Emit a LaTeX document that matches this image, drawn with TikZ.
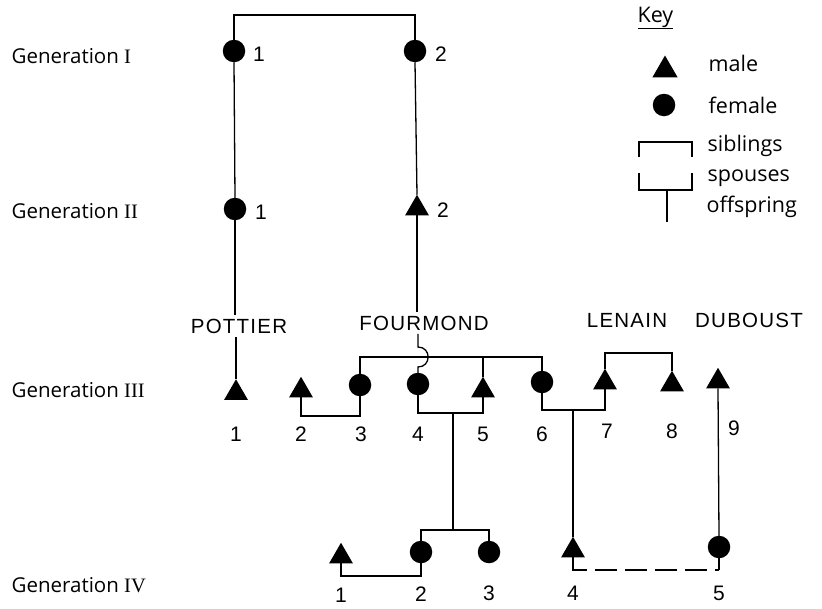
\documentclass[tikz,border=0pt]{standalone}
\usepackage{fontspec}
\setmainfont{Open Sans}
\newfontfamily\numfont{Liberation Sans}
\newfontfamily\capsfont[LetterSpace=6]{Liberation Sans}
\newfontfamily\romfont{Liberation Serif}
\usetikzlibrary{shapes.geometric,calc}
\begin{document}
\begin{tikzpicture}[x=1pt,y=-1pt,line width=1.3pt,
 fem/.style={circle,fill=black,draw=none,inner sep=0pt,outer sep=0pt,minimum size=22.5pt},
 mal/.style={regular polygon,regular polygon sides=3,fill=black,draw=none,inner sep=0pt,outer sep=0pt,minimum size=27.5pt},
 num/.style={font=\numfont\fontsize{21}{21}\selectfont,inner sep=0pt},
 fam/.style={font=\capsfont\fontsize{20.5}{20.5}\selectfont,inner sep=3pt},
 gen/.style={font=\fontsize{20.5}{20.5}\selectfont,anchor=west,inner sep=0pt},
 keytxt/.style={font=\fontsize{21.5}{21.5}\selectfont,anchor=west,inner sep=0pt},
 spouse/.style={dash pattern=on 22pt off 8pt}]
\useasboundingbox (0,0) rectangle (822,608);

% generation labels
\node[gen] (g1) at (11,56) {Generation {\romfont I}};
\node[gen] (g2) at (11,211) {Generation {\romfont II}};
\node[gen] (g3) at (11,390) {Generation {\romfont III}};
\node[gen] (g4) at (11,585) {Generation {\romfont IV}};

% Generation I
\node[fem] (A1) at (234,51) {};
\node[fem] (A2) at (415,51) {};
\node[num] (nA1) at (259,54) {1};
\node[num] (nA2) at (441,54) {2};
\coordinate (top) at (0,15);
\draw (A1.north) -- (A1.north |- top) -- (A2.north |- top) -- (A2.north);

% Generation II
\node[fem] (B1) at (235,209) {};
\node[mal] (B2) at (417,208.5) {};
\node[num] (nB1) at (261,212) {1};
\node[num] (nB2) at (443,210) {2};
\draw (A1.south) -- (B1.north);
\draw (A2.south) -- (B2.north);

% family names
\node[fam] (pot) at (239,326) {POTTIER};
\node[fam] (fou) at (424,323) {FOURMOND};
\node[fam] (len) at (627,320) {LENAIN};
\node[fam] (dub) at (749,320) {DUBOUST};

% Generation III
\node[mal] (C1) at (236,393) {};
\node[mal] (C2) at (301,390.5) {};
\node[fem] (C3) at (360,385) {};
\node[fem] (C4) at (418,384) {};
\node[mal] (C5) at (483,390.5) {};
\node[fem] (C6) at (542,382) {};
\node[mal] (C7) at (605,382.5) {};
\node[mal] (C8) at (672,384.5) {};
\node[mal] (C9) at (718,381.5) {};
\node[num] (nC1) at (236,434) {1};
\node[num] (nC2) at (301,434) {2};
\node[num] (nC3) at (361,434) {3};
\node[num] (nC4) at (418,434) {4};
\node[num] (nC5) at (483,434) {5};
\node[num] (nC6) at (542,434) {6};
\node[num] (nC7) at (607,431) {7};
\node[num] (nC8) at (672,431) {8};
\node[num] (nC9) at (734,428) {9};

% offspring lines from generation II
\draw (B1.south) -- (pot.north -| B1.south);
\draw (pot.south -| C1.north) -- (C1.north);
\draw (B2.south) -- (fou.north -| B2.south);
\coordinate (hopA) at (418,347);
\coordinate (hopB) at (418,367);
\draw (fou.south -| C4.north) -- (hopA) .. controls (431.5,347) and (431.5,367) .. (hopB) -- (C4.north);

% siblings 3,5,6
\coordinate (sib) at (0,357);
\draw (C3.north) -- (C3.north |- sib) -- (C6.north |- sib) -- (C6.north);
\draw (C5.north) -- (C5.north |- sib);

% siblings 7,8
\coordinate (sib78) at (0,353);
\draw (C7.north) -- (C7.north |- sib78) -- (C8.north |- sib78) -- (C8.north);

% spouses generation III
\coordinate (sp23) at (0,416);
\draw (C2.south) -- (C2.south |- sp23) -- (C3.south |- sp23) -- (C3.south);
\coordinate (sp45) at (0,413);
\draw (C4.south) -- (C4.south |- sp45) -- (C5.south |- sp45) -- (C5.south);
\coordinate (sp67) at (0,410);
\draw (C6.south) -- (C6.south |- sp67) -- (C7.south |- sp67) -- (C7.south);

% Generation IV
\node[mal] (D1) at (341,556.5) {};
\node[fem] (D2) at (421,552) {};
\node[fem] (D3) at (489,552) {};
\node[mal] (D4) at (573,550.5) {};
\node[fem] (D5) at (719,547) {};
\node[num] (nD1) at (341,595) {1};
\node[num] (nD2) at (421,594) {2};
\node[num] (nD3) at (489,593) {3};
\node[num] (nD4) at (573,593) {4};
\node[num] (nD5) at (719,593) {5};

% offspring to generation IV
\coordinate (m45) at (453,413);
\coordinate (s23) at (453,530);
\draw (m45) -- (s23);
\draw (D2.north) -- (D2.north |- s23) -- (D3.north |- s23) -- (D3.north);
\coordinate (m67) at (573,410);
\draw (m67) -- (D4.north);
\draw (C9.south) -- (D5.north);

% spouses generation IV
\coordinate (spD12) at (0,576);
\draw (D1.south) -- (D1.south |- spD12) -- (D2.south |- spD12) -- (D2.south);
\coordinate (spD45) at (0,570);
\draw (D4.south) -- (D4.south |- spD45) -- ++(14,0);
\draw[spouse] ($(D4.south |- spD45)+(22,0)$) -- (D5.south |- spD45);
\draw (D5.south |- spD45) -- (D5.south);

% key
\node[keytxt] (key) at (637,18) {\underline{Key}};
\node[mal, minimum size=29pt] (K1) at (665,70) {};
\node[fem] (K2) at (664,105) {};
\node[keytxt] (kmale) at (708,63) {male};
\node[keytxt] (kfemale) at (708,105) {female};
\node[keytxt] (ksib) at (707,146) {siblings};
\node[keytxt] (kspo) at (707,178) {spouses};
\node[keytxt] (koff) at (706,207) {offspring};
\draw (639,157) -- (639,142) -- (692,142) -- (692,157);
\draw (639,173) -- (639,190) -- (692,190) -- (692,173);
\coordinate (koffA) at (667,190);
\coordinate (koffB) at (667,222);
\draw (koffA) -- (koffB);
\end{tikzpicture}
\end{document}
